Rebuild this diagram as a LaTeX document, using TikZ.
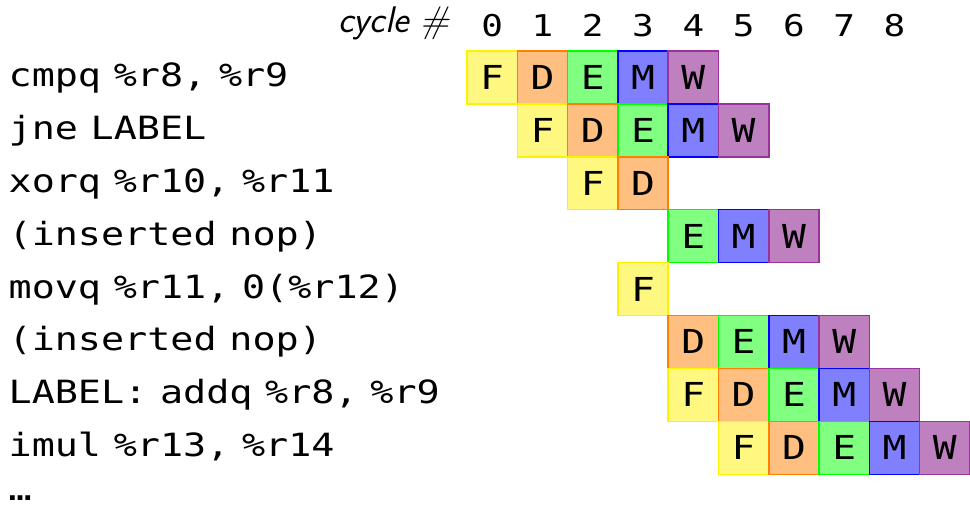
\documentclass[tikz,border=0pt]{standalone}
\usepackage{fontspec}
\setmonofont[FakeStretch=1.2,WordSpace=0.55]{DejaVu Sans Mono}
\usepackage{xcolor}
\usepackage{tikz}

\tikzset{
  stageF/.style={draw=yellow, fill=yellow!50, line width=0.7pt},
  stageD/.style={draw=orange, fill=orange!50, line width=0.7pt},
  stageE/.style={draw=green, fill=green!50, line width=0.7pt},
  stageM/.style={draw=blue, fill=blue!50, line width=0.7pt},
  stageW/.style={draw=violet!80, fill=violet!50, line width=0.7pt},
  letter/.style={inner sep=0pt, font=\ttfamily\fontsize{16.5}{19}\selectfont},
  insn/.style={anchor=base west, inner sep=0pt, font=\ttfamily\fontsize{16}{19}\selectfont},
  cyc/.style={anchor=base, inner sep=0pt, font=\ttfamily\fontsize{15}{18}\selectfont},
}

\begin{document}
\begin{tikzpicture}[x=25.15pt, y=-26.45pt]
            \useasboundingbox (-9.284,-0.964) rectangle (10,8.582);

            % header
            \node[anchor=base east, inner sep=0pt, font=\sffamily\itshape\fontsize{18.5}{22}\selectfont] (cyclehdr) at (-0.338,-0.359) {cycle \#};
            \foreach \c in {0,...,8}
              \node[cyc] (cyc\c) at (\c+.5,-0.265) {\c};

            % instructions
            \node[insn] (i0) at (-9.12,0.67) {cmpq \%r8, \%r9};
            \node[insn] (i1) at (-9.12,1.67) {jne LABEL};
            \node[insn] (i2) at (-9.12,2.67) {xorq \%r10, \%r11};
            \node[insn] (i3) at (-9.12,3.67) {(inserted nop)};
            \node[insn] (i4) at (-9.12,4.67) {movq \%r11, 0(\%r12)};
            \node[insn] (i5) at (-9.12,5.67) {(inserted nop)};
            \node[insn] (i6) at (-9.12,6.67) {LABEL: addq \%r8, \%r9};
            \node[insn] (i7) at (-9.12,7.67) {imul \%r13, \%r14};
            \node[insn] (more) at (-9.12,8.50) {…};

            % cmpq
            \draw[stageF] (0,0) rectangle (1,1) node[letter,pos=.5] (r0F) {F};
            \draw[stageD] (1,0) rectangle (2,1) node[letter,pos=.5] (r0D) {D};
            \draw[stageE] (2,0) rectangle (3,1) node[letter,pos=.5] (r0E) {E};
            \draw[stageM] (3,0) rectangle (4,1) node[letter,pos=.5] (r0M) {M};
            \draw[stageW] (4,0) rectangle (5,1) node[letter,pos=.5] (r0W) {W};

            % jne
            \draw[stageF] (1,1) rectangle (2,2) node[letter,pos=.5] (r1F) {F};
            \draw[stageD] (2,1) rectangle (3,2) node[letter,pos=.5] (r1D) {D};
            \draw[stageE] (3,1) rectangle (4,2) node[letter,pos=.5] (r1E) {E};
            \draw[stageM] (4,1) rectangle (5,2) node[letter,pos=.5] (r1M) {M};
            \draw[stageW] (5,1) rectangle (6,2) node[letter,pos=.5] (r1W) {W};

            % xorq
            \draw[stageF] (2,2) rectangle (3,3) node[letter,pos=.5] (r2F) {F};
            \draw[stageD] (3,2) rectangle (4,3) node[letter,pos=.5] (r2D) {D};

            % nop
            \draw[stageE] (4,3) rectangle (5,4) node[letter,pos=.5] (r3E) {E};
            \draw[stageM] (5,3) rectangle (6,4) node[letter,pos=.5] (r3M) {M};
            \draw[stageW] (6,3) rectangle (7,4) node[letter,pos=.5] (r3W) {W};

            % movq
            \draw[stageF] (3,4) rectangle (4,5) node[letter,pos=.5] (r4F) {F};

            % nop
            \draw[stageD] (4,5) rectangle (5,6) node[letter,pos=.5] (r5D) {D};
            \draw[stageE] (5,5) rectangle (6,6) node[letter,pos=.5] (r5E) {E};
            \draw[stageM] (6,5) rectangle (7,6) node[letter,pos=.5] (r5M) {M};
            \draw[stageW] (7,5) rectangle (8,6) node[letter,pos=.5] (r5W) {W};

            % addq
            \draw[stageF] (4,6) rectangle (5,7) node[letter,pos=.5] (r6F) {F};
            \draw[stageD] (5,6) rectangle (6,7) node[letter,pos=.5] (r6D) {D};
            \draw[stageE] (6,6) rectangle (7,7) node[letter,pos=.5] (r6E) {E};
            \draw[stageM] (7,6) rectangle (8,7) node[letter,pos=.5] (r6M) {M};
            \draw[stageW] (8,6) rectangle (9,7) node[letter,pos=.5] (r6W) {W};

            % imul
            \draw[stageF] (5,7) rectangle (6,8) node[letter,pos=.5] (r7F) {F};
            \draw[stageD] (6,7) rectangle (7,8) node[letter,pos=.5] (r7D) {D};
            \draw[stageE] (7,7) rectangle (8,8) node[letter,pos=.5] (r7E) {E};
            \draw[stageM] (8,7) rectangle (9,8) node[letter,pos=.5] (r7M) {M};
            \draw[stageW] (9,7) rectangle (10,8) node[letter,pos=.5] (r7W) {W};
         \end{tikzpicture}
\end{document}
